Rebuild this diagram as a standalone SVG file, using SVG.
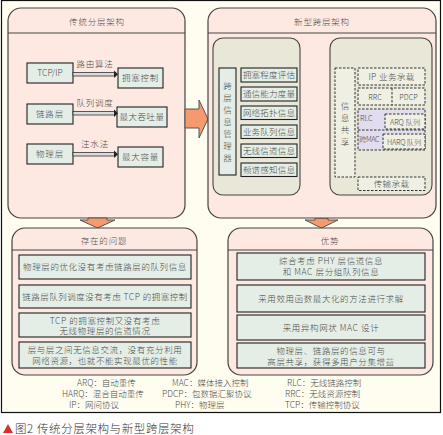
<svg xmlns="http://www.w3.org/2000/svg" width="443" height="435" viewBox="0 0 443 435">
<style>
text{font-family:"Noto Sans CJK SC","Noto Sans",sans-serif;fill:#4a4a4a;font-size:8.5px;font-weight:300}
.c{text-anchor:middle}
.panel{fill:#fde9e1;stroke:#444;stroke-width:1.2}
.inner{fill:#e9e8d8;stroke:#444;stroke-width:1.1}
.item{fill:#e4eee6;stroke:#222;stroke-width:1.1}
.dash{fill:#f0efe4;stroke:#333;stroke-width:1;stroke-dasharray:2.5,1.5}
.purp{fill:#e2dcef;stroke:#333;stroke-width:1;stroke-dasharray:2.5,1.5}
.big{fill:#f59a6e;stroke:#555;stroke-width:1}
.sep{stroke:#444;stroke-width:1}
.sh{fill:#dcdcdc;stroke:#333;stroke-width:0.8}
.sm{font-size:7.3px}
.leg{font-size:8.5px}
</style>
<rect x="0" y="0" width="443" height="435" fill="#ffffff"/>
<rect x="1.5" y="0.5" width="439" height="412" fill="#fffdf0" stroke="#111" stroke-width="1.2"/>

<g id="traditional">
<rect class="panel" x="8" y="8" width="177" height="210" rx="13"/>
<line class="sep" x1="8" y1="33" x2="185" y2="33"/>
<text class="c" x="97" y="25" letter-spacing="0.8">传统分层架构</text>
</g>
<g id="tcpip"><rect class="item" x="27" y="63" width="46" height="20"/><text class="c" x="50" y="76">TCP/IP</text></g>
<g id="congestion"><rect class="item" x="118" y="68" width="45" height="20"/><text class="c" x="140.5" y="81" letter-spacing="0.8">拥塞控制</text></g>
<g id="link"><rect class="item" x="27" y="104" width="46" height="20"/><text class="c" x="50" y="117" letter-spacing="0.8">链路层</text></g>
<g id="throughput"><rect class="item" x="117" y="107" width="50" height="20"/><text class="c" x="142" y="120" letter-spacing="0.5">最大吞吐量</text></g>
<g id="phy"><rect class="item" x="27" y="144" width="46" height="20"/><text class="c" x="50" y="157" letter-spacing="0.8">物理层</text></g>
<g id="capacity"><rect class="item" x="118" y="147" width="45" height="20"/><text class="c" x="140.5" y="160" letter-spacing="0.8">最大容量</text></g>

<g id="connectors">
<rect class="sh" x="73" y="72.5" width="42" height="3.5"/>
<polygon points="114,70.5 118,74.25 114,78" fill="#222"/>
<text class="c" x="95" y="67" letter-spacing="0.8">路由算法</text>
<rect class="sh" x="73" y="111.5" width="42" height="3.5"/>
<polygon points="114,109.5 118,113.25 114,117" fill="#222"/>
<text class="c" x="95" y="106" letter-spacing="0.8">队列调度</text>
<rect class="sh" x="73" y="152.5" width="42" height="3.5"/>
<polygon points="114,150.5 118,154.25 114,158" fill="#222"/>
<text class="c" x="95" y="147" letter-spacing="0.8">注水法</text>
<polygon class="big" points="185,109 199,109 199,100 208,119 199,138 199,128 185,128"/>
<polygon class="big" points="88,218 107,218 107,220 115,220 97.5,228 80,220 88,220"/>
<polygon class="big" points="315,218 328,218 328,220 338,220 321.5,228 305,220 315,220"/>
<polygon class="big" points="303,117 313,100 313,112 318,112 318,100 328,117 318,134 318,122 313,122 313,134"/>
</g>

<g id="crosslayer">
<rect class="panel" x="208" y="8" width="228" height="210" rx="13"/>
<line class="sep" x1="208" y1="33" x2="436" y2="33"/>
<text class="c" x="322" y="25" letter-spacing="0.8">新型跨层架构</text>
</g>
<g id="left-inner">
<rect class="inner" x="213" y="38" width="87" height="157" rx="10"/>
</g>
<g id="manager">
<rect class="item" x="219" y="68" width="17" height="107"/>
<text class="c" x="227.5" y="89">跨</text>
<text class="c" x="227.5" y="101">层</text>
<text class="c" x="227.5" y="113">信</text>
<text class="c" x="227.5" y="125">息</text>
<text class="c" x="227.5" y="137">管</text>
<text class="c" x="227.5" y="149">理</text>
<text class="c" x="227.5" y="161">器</text>
</g>
<g id="m1"><rect class="item" x="241" y="68" width="56" height="14"/><text class="c" x="269" y="78.3" letter-spacing="0.2">拥塞程度评估</text></g>
<g id="m2"><rect class="item" x="241" y="87" width="56" height="14"/><text class="c" x="269" y="97.3" letter-spacing="0.2">通信能力度量</text></g>
<g id="m3"><rect class="item" x="241" y="106" width="56" height="13.5"/><text class="c" x="269" y="116" letter-spacing="0.2">网络拓扑信息</text></g>
<g id="m4"><rect class="item" x="241" y="125" width="56" height="13.5"/><text class="c" x="269" y="135" letter-spacing="0.2">业务队列信息</text></g>
<g id="m5"><rect class="item" x="241" y="144" width="56" height="13.5"/><text class="c" x="269" y="154" letter-spacing="0.2">无线信道信息</text></g>
<g id="m6"><rect class="item" x="241" y="163" width="56" height="13.5"/><text class="c" x="269" y="173" letter-spacing="0.2">频谱感知信息</text></g>

<g id="right-inner">
<rect class="inner" x="330" y="38" width="102" height="157" rx="10"/>
</g>
<g id="share">
<rect class="dash" x="335" y="68" width="20" height="109"/>
<text class="c" x="345" y="109">信</text>
<text class="c" x="345" y="121">息</text>
<text class="c" x="345" y="133">共</text>
<text class="c" x="345" y="145">享</text>
</g>
<g id="ip"><rect class="dash" x="358" y="68" width="67" height="17"/><text class="c" x="391.5" y="79.5" letter-spacing="0.4">IP 业务承载</text></g>
<g id="rrc-pdcp"><rect class="dash" x="358" y="88" width="67" height="17"/><line x1="392" y1="88" x2="392" y2="105" stroke="#333" stroke-dasharray="2.5,1.5"/><text class="c sm" x="375" y="99.5">RRC</text><text class="c sm" x="408.5" y="99.5">PDCP</text></g>
<g id="rlc-mac">
<rect class="purp" x="358" y="109" width="67" height="41"/>
<line x1="358" y1="130" x2="425" y2="130" stroke="#333" stroke-dasharray="2.5,1.5"/>
<text class="sm" x="360" y="120.5">RLC</text>
<text class="sm" x="359" y="142" letter-spacing="-0.4">跨MAC</text>
</g>
<g id="arq"><rect class="dash" x="385" y="114" width="40" height="15" fill="#eef1ea"/><text class="c sm" x="405" y="124.5">ARQ 队列</text></g>
<g id="harq"><rect class="dash" x="383" y="134" width="42" height="15" fill="#eef1ea"/><text class="c sm" x="404" y="144.5" letter-spacing="-0.2">HARQ 队列</text></g>
<g id="transport"><rect class="dash" x="358" y="177" width="67" height="13.5"/><text class="c" x="391.5" y="187" letter-spacing="0.4">传输承载</text></g>

<g id="problems">
<rect class="panel" x="12" y="228" width="185" height="147" rx="13"/>
<line class="sep" x1="12" y1="250" x2="197" y2="250"/>
<text class="c" x="104" y="243.5" letter-spacing="0.8">存在的问题</text>
</g>
<g id="p1"><rect class="item" x="19" y="255" width="172" height="24"/><text class="c" x="105" y="270" letter-spacing="0.6">物理层的优化没有考虑链路层的队列信息</text></g>
<g id="p2"><rect class="item" x="19" y="285" width="172" height="23"/><text class="c" x="105" y="299.5" letter-spacing="0.5">链路层队列调度没有考虑 TCP 的拥塞控制</text></g>
<g id="p3"><rect class="item" x="19" y="313" width="172" height="24"/><text class="c" x="105" y="323.5" letter-spacing="0.6">TCP 的拥塞控制又没有考虑</text><text class="c" x="105" y="334" letter-spacing="0.6">无线物理层的信道情况</text></g>
<g id="p4"><rect class="item" x="19" y="342" width="172" height="26"/><text class="c" x="105" y="353" letter-spacing="0.6">层与层之间无信息交流，没有充分利用</text><text class="c" x="105" y="364" letter-spacing="0.6">网络资源，也就不能实现最优的性能</text></g>

<g id="advantages">
<rect class="panel" x="228" y="228" width="205" height="147" rx="13"/>
<line class="sep" x1="228" y1="250" x2="433" y2="250"/>
<text class="c" x="330" y="243.5" letter-spacing="0.8">优势</text>
</g>
<g id="a1"><rect class="item" x="237" y="253" width="188" height="27"/><text class="c" x="331" y="264" letter-spacing="0.6">综合考虑 PHY 层信道信息</text><text class="c" x="331" y="275" letter-spacing="0.6">和 MAC 层分组队列信息</text></g>
<g id="a2"><rect class="item" x="237" y="285" width="188" height="27"/><text class="c" x="331" y="301.5" letter-spacing="0.6">采用效用函数最大化的方法进行求解</text></g>
<g id="a3"><rect class="item" x="237" y="315" width="188" height="25"/><text class="c" x="331" y="330.5" letter-spacing="0.6">采用异构网状 MAC 设计</text></g>
<g id="a4"><rect class="item" x="237" y="343" width="188" height="25"/><text class="c" x="331" y="353.5" letter-spacing="0.6">物理层、链路层的信息可与</text><text class="c" x="331" y="364.5" letter-spacing="0.6">高层共享，获得多用户分集增益</text></g>

<g id="legend">
<text class="leg" x="77" y="386">ARQ：自动重传</text>
<text class="leg" x="62" y="397">HARQ：混合自动重传</text>
<text class="leg" x="69" y="408">IP：网间协议</text>
<text class="leg" x="172" y="386">MAC：媒体接入控制</text>
<text class="leg" x="162" y="397">PDCP：包数据汇聚协议</text>
<text class="leg" x="175" y="408">PHY：物理层</text>
<text class="leg" x="287" y="386">RLC：无线链路控制</text>
<text class="leg" x="285" y="397">RRC：无线资源控制</text>
<text class="leg" x="285" y="408">TCP：传输控制协议</text>
</g>

<g id="caption">
<polygon points="3,433 8,424 13,433" fill="#d0342c"/>
<text x="15" y="433" style="font-size:11.5px;fill:#333" letter-spacing="0.6">图2 传统分层架构与新型跨层架构</text>
</g>
</svg>
